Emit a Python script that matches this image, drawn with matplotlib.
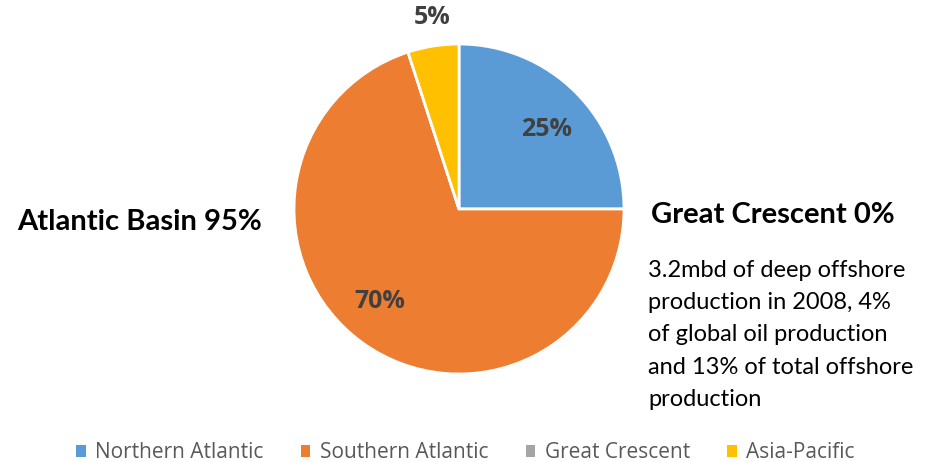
import matplotlib.pyplot as plt
from matplotlib.patches import Patch

regions = ["Northern Atlantic", "Southern Atlantic", "Great Crescent", "Asia-Pacific"]
shares = [25, 70, 0, 5]
colors = ["#5B9BD5", "#ED7D31", "#A5A5A5", "#FFC000"]
pct_labels = ["25%", "70%", "", "5%"]
note = ("3.2mbd of deep offshore\nproduction in 2008, 4%\n"
        "of global oil production\nand 13% of total offshore\nproduction")

W, H = 932, 462
fig = plt.figure(figsize=(W / 100, H / 100), dpi=100)

# pie centre and radius in pixels
cx, cy, r = 459, 209, 165
ax = fig.add_axes([(cx - r) / W, (H - cy - r) / H, 2 * r / W, 2 * r / H])

wedges, _ = ax.pie(shares, colors=colors, startangle=90, counterclock=False,
                   radius=1, wedgeprops=dict(edgecolor="white", linewidth=2))
ax.set_xlim(-1, 1)
ax.set_ylim(-1, 1)
ax.set_aspect("equal")
ax.axis("off")

label_pos = [(0.53, 0.48), (-0.48, -0.56), None, (-0.16, 1.16)]
for txt, pos in zip(pct_labels, label_pos):
    if pos is None:
        continue
    ax.text(pos[0], pos[1], txt, ha="center", va="center", fontsize=18,
            family="Open Sans", fontweight="bold", color="#404040", clip_on=False)

fig.text(140 / W, 1 - 222 / H, "Atlantic Basin 95%", ha="center", va="center",
         fontsize=21, family="Lato", fontweight="bold", color="black")
fig.text(773 / W, 1 - 215 / H, "Great Crescent 0%", ha="center", va="center",
         fontsize=21, family="Lato", fontweight="bold", color="black")
fig.text(648 / W, 1 - 260 / H, note, ha="left", va="top", fontsize=17,
         family="Lato", color="black", linespacing=1.66)

handles = [Patch(facecolor=c, edgecolor="none") for c in colors]
leg = fig.legend(handles, regions, loc="center", bbox_to_anchor=(0.4995, 1 - 453 / H),
                 ncol=4, frameon=False, handlelength=0.45, handleheight=0.45,
                 handletextpad=0.45, columnspacing=1.8,
                 prop=dict(family="Open Sans", size=15))
for t in leg.get_texts():
    t.set_color("#595959")

fig.savefig("out.png", dpi=100)
